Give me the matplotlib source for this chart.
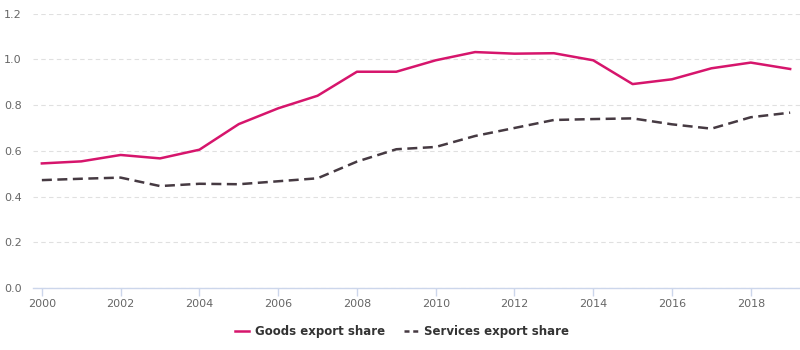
import matplotlib
matplotlib.use("Agg")
import matplotlib.pyplot as plt
from matplotlib.lines import Line2D

years = list(range(2000, 2020))
goods = [0.545, 0.554, 0.582, 0.567, 0.605, 0.717, 0.786, 0.841, 0.946, 0.946,
         0.996, 1.032, 1.025, 1.027, 0.996, 0.892, 0.913, 0.961, 0.986, 0.958]
services = [0.472, 0.478, 0.483, 0.446, 0.456, 0.454, 0.467, 0.480, 0.553, 0.607,
            0.617, 0.665, 0.700, 0.735, 0.739, 0.742, 0.716, 0.697, 0.747, 0.767]
series_names = ["Goods export share", "Services export share"]
x_ticks = list(range(2000, 2020, 2))
y_ticks = [0.0, 0.2, 0.4, 0.6, 0.8, 1.0, 1.2]

plt.rcParams['font.family'] = ['DejaVu Sans']
fig = plt.figure(figsize=(8, 3.5), dpi=100)
ax = fig.add_axes([0.041, 0.177, 0.959, 0.784])

goods_color = "#d6156c"
serv_color = "#463a42"

ax.plot(years, goods, color=goods_color, lw=1.8, solid_joinstyle='round', zorder=3)
ax.plot(years, services, color=serv_color, lw=1.8, linestyle=(0, (4, 2.2)), zorder=3)

ax.set_xlim(1999.77, 2019.25)
ax.set_ylim(0, 1.2)
ax.set_xticks(x_ticks)
ax.set_yticks(y_ticks)
ax.set_yticklabels([f"{v:.1f}" for v in y_ticks])
ax.grid(axis='y', color='#e0e0e0', linestyle=(0, (4, 3)), lw=0.8)
ax.set_axisbelow(True)
for s in ['top', 'right', 'left']:
    ax.spines[s].set_visible(False)
ax.spines['bottom'].set_color('#ccd6eb')
ax.spines['bottom'].set_linewidth(1)
ax.spines['bottom'].set_zorder(1)
ax.tick_params(axis='x', colors='#ccd6eb', length=6, width=1, labelcolor='#666666',
               labelsize=8, pad=2)
ax.tick_params(axis='y', length=0, labelcolor='#666666', labelsize=8, pad=8)

handles = [Line2D([0], [0], color=goods_color, lw=1.8),
           Line2D([0], [0], color=serv_color, lw=1.8, linestyle=(0, (2, 1.5)))]
leg = fig.legend(handles, series_names, loc='center', bbox_to_anchor=(0.502, 0.052),
                 ncol=2, frameon=False, handlelength=1.2, handletextpad=0.5,
                 columnspacing=1.6, prop={'weight': 'bold', 'size': 8.5})
for t in leg.get_texts():
    t.set_color('#333333')

fig.savefig("out.png", dpi=100)
